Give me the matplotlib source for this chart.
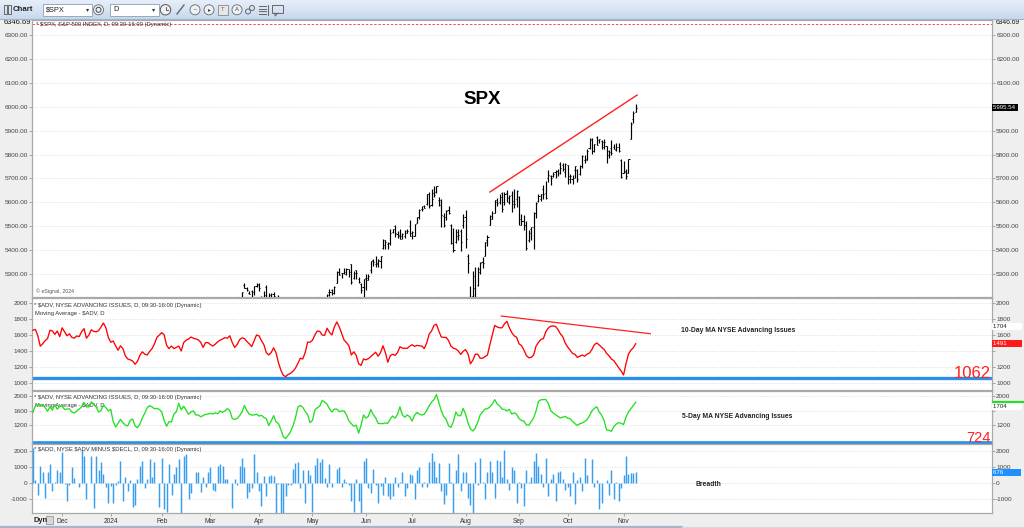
import numpy as np
import pandas as pd
import matplotlib
matplotlib.use('Agg')
import matplotlib.pyplot as plt
from matplotlib.patches import Rectangle, Circle
from matplotlib.transforms import blended_transform_factory

plt.rcParams['font.family'] = ['Liberation Sans', 'DejaVu Sans']
plt.rcParams['axes.unicode_minus'] = False

W, H = 1024, 528

# ---------------- data ----------------
holidays = ['2023-11-23', '2023-12-25', '2024-01-01', '2024-01-15', '2024-02-19',
            '2024-03-29', '2024-05-27', '2024-06-19', '2024-07-04', '2024-09-02']
month_labels = ['Dec', '2024', 'Feb', 'Mar', 'Apr', 'May', 'Jun', 'Jul', 'Aug', 'Sep', 'Oct', 'Nov']

spx_open = [
    4458, 4505, 4497, 4510, 4512, 4539, 4553, 4555, 4555, 4546, 4571, 4548,
    4559, 4565, 4558, 4586, 4568, 4576, 4594, 4619, 4647, 4721, 4714, 4725, 4743, 4764, 4725, 4753, 4758, 4773, 4787, 4782,
    4745, 4726, 4697, 4690, 4703, 4742, 4759, 4792, 4792, 4772, 4739, 4760, 4797, 4854, 4856, 4889, 4886, 4888, 4892, 4925, 4900,
    4862, 4917, 4957, 4951, 4973, 4996, 5005, 5026, 4967, 4976, 5004, 5031, 4989, 4963, 5039, 5100, 5094, 5075, 5067, 5086,
    5098, 5131, 5110, 5109, 5133, 5160, 5112, 5134, 5174, 5175, 5124, 5154, 5139, 5181, 5254, 5242, 5219, 5229, 5226, 5249,
    5258, 5204, 5195, 5244, 5158, 5212, 5217, 5167, 5172, 5171, 5150, 5065, 5068, 5031, 5006, 4988, 5029, 5084, 5019, 5085, 5114, 5103,
    5029, 5049, 5122, 5142, 5187, 5173, 5189, 5225, 5233, 5222, 5264, 5310, 5303, 5305, 5298, 5319, 5340, 5282, 5315, 5278, 5259, 5244,
    5283, 5275, 5315, 5357, 5343, 5341, 5353, 5409, 5441, 5424, 5431, 5477, 5499, 5466, 5460, 5460, 5461, 5473, 5499,
    5471, 5461, 5514, 5537, 5572, 5585, 5591, 5636, 5590, 5638, 5645, 5610, 5608, 5544, 5538, 5566, 5505, 5429, 5433, 5477, 5478, 5505,
    5537, 5377, 5151, 5206, 5293, 5253, 5308, 5352, 5376, 5443, 5505, 5531, 5557, 5602, 5603, 5637, 5602, 5640, 5602, 5629, 5607, 5612,
    5624, 5507, 5521, 5507, 5443, 5490, 5496, 5557, 5604, 5615, 5655, 5641, 5703, 5709, 5711, 5727, 5733, 5762, 5756, 5727,
    5757, 5698, 5698, 5737, 5737, 5719, 5751, 5778, 5775, 5829, 5866, 5816, 5875, 5860, 5857, 5833, 5834, 5816, 5827, 5833, 5819, 5832, 5775,
    5724, 5725, 5722, 5865, 5947, 5977]

spx_high = [
    4504, 4521, 4511, 4521, 4557, 4542, 4568, 4560, 4562, 4562, 4587, 4569,
    4599, 4575, 4578, 4591, 4591, 4610, 4624, 4644, 4710, 4739, 4725, 4749, 4769, 4779, 4749, 4773, 4785, 4785, 4793, 4789,
    4755, 4730, 4727, 4721, 4765, 4765, 4791, 4798, 4802, 4782, 4745, 4786, 4842, 4869, 4867, 4903, 4898, 4907, 4929, 4932, 4907,
    4906, 4975, 4957, 4965, 5000, 5004, 5031, 5049, 4975, 5003, 5033, 5039, 4993, 4983, 5090, 5111, 5098, 5081, 5077, 5105,
    5140, 5149, 5114, 5127, 5160, 5190, 5125, 5180, 5180, 5180, 5128, 5175, 5180, 5225, 5261, 5246, 5229, 5235, 5249, 5264,
    5263, 5208, 5228, 5256, 5222, 5219, 5224, 5178, 5211, 5175, 5168, 5079, 5077, 5046, 5019, 5039, 5076, 5089, 5058, 5114, 5123, 5110,
    5096, 5073, 5140, 5181, 5200, 5191, 5215, 5239, 5237, 5250, 5312, 5325, 5305, 5325, 5324, 5323, 5341, 5311, 5315, 5288, 5263, 5281,
    5302, 5302, 5354, 5362, 5375, 5361, 5376, 5447, 5442, 5432, 5488, 5487, 5505, 5478, 5487, 5472, 5483, 5490, 5524,
    5479, 5510, 5539, 5570, 5584, 5590, 5635, 5642, 5655, 5667, 5669, 5622, 5614, 5557, 5567, 5586, 5508, 5492, 5488, 5487, 5489, 5551,
    5566, 5383, 5250, 5313, 5330, 5328, 5351, 5371, 5436, 5463, 5547, 5562, 5609, 5620, 5633, 5643, 5642, 5651, 5631, 5646, 5655, 5651,
    5626, 5552, 5546, 5523, 5484, 5497, 5560, 5600, 5636, 5636, 5671, 5690, 5734, 5716, 5725, 5736, 5741, 5767, 5764, 5765,
    5758, 5720, 5714, 5753, 5739, 5757, 5796, 5796, 5822, 5871, 5871, 5843, 5878, 5866, 5862, 5863, 5834, 5817, 5862, 5842, 5847, 5850, 5780,
    5772, 5741, 5783, 5936, 5983, 6012]

spx_low = [
    4458, 4495, 4485, 4499, 4510, 4525, 4545, 4552, 4546, 4540, 4547, 4537,
    4547, 4547, 4551, 4547, 4565, 4575, 4593, 4609, 4644, 4695, 4705, 4720, 4743, 4698, 4717, 4737, 4758, 4768, 4780, 4751,
    4723, 4699, 4683, 4683, 4703, 4731, 4756, 4740, 4769, 4742, 4715, 4739, 4786, 4839, 4836, 4865, 4870, 4881, 4887, 4917, 4845,
    4853, 4908, 4918, 4935, 4969, 4983, 5003, 5016, 4920, 4964, 4999, 4996, 4947, 4946, 5039, 5082, 5069, 5058, 5058, 5067,
    5094, 5127, 5056, 5092, 5126, 5111, 5099, 5122, 5161, 5131, 5104, 5148, 5137, 5161, 5240, 5229, 5216, 5203, 5213, 5246,
    5229, 5184, 5194, 5146, 5157, 5197, 5160, 5138, 5138, 5107, 5052, 5039, 5007, 4998, 4954, 4987, 5027, 5047, 5001, 5073, 5089, 5035,
    5013, 5011, 5086, 5142, 5178, 5165, 5180, 5207, 5211, 5216, 5263, 5296, 5283, 5298, 5297, 5287, 5257, 5279, 5280, 5264, 5222, 5192,
    5234, 5273, 5303, 5335, 5331, 5331, 5327, 5405, 5404, 5404, 5421, 5472, 5455, 5452, 5447, 5446, 5451, 5471, 5460,
    5445, 5459, 5513, 5531, 5565, 5575, 5587, 5576, 5584, 5621, 5640, 5584, 5497, 5497, 5525, 5551, 5427, 5390, 5430, 5444, 5398, 5493,
    5410, 5303, 5120, 5194, 5195, 5250, 5300, 5324, 5376, 5418, 5505, 5529, 5555, 5585, 5592, 5560, 5590, 5602, 5593, 5561, 5577, 5581,
    5504, 5503, 5486, 5402, 5434, 5442, 5406, 5536, 5601, 5605, 5614, 5615, 5685, 5674, 5704, 5700, 5712, 5720, 5730, 5704,
    5677, 5679, 5675, 5702, 5686, 5715, 5745, 5765, 5775, 5824, 5804, 5810, 5840, 5847, 5824, 5821, 5763, 5785, 5799, 5823, 5813, 5811, 5703,
    5723, 5696, 5722, 5864, 5931, 5976]

spx_close = [
    4496, 4502, 4508, 4514, 4547, 4538, 4556, 4559, 4550, 4554, 4551, 4568,
    4595, 4569, 4567, 4549, 4585, 4604, 4622, 4644, 4707, 4720, 4719, 4741, 4768, 4698, 4746, 4755, 4775, 4781, 4783, 4770,
    4743, 4705, 4689, 4697, 4764, 4757, 4783, 4780, 4784, 4766, 4739, 4780, 4840, 4851, 4865, 4868, 4894, 4891, 4928, 4925, 4846,
    4906, 4959, 4943, 4954, 4995, 4998, 5027, 5022, 4953, 5001, 5030, 5006, 4976, 4982, 5087, 5089, 5070, 5078, 5070, 5096,
    5137, 5131, 5079, 5105, 5157, 5124, 5118, 5175, 5165, 5150, 5117, 5149, 5179, 5225, 5241, 5234, 5218, 5204, 5248, 5254,
    5243, 5205, 5211, 5147, 5204, 5202, 5209, 5161, 5199, 5123, 5061, 5051, 5022, 5011, 4967, 5010, 5070, 5072, 5048, 5100, 5116, 5036,
    5018, 5064, 5128, 5181, 5187, 5188, 5214, 5223, 5221, 5247, 5308, 5297, 5303, 5308, 5321, 5307, 5268, 5305, 5306, 5267, 5235, 5278,
    5283, 5291, 5354, 5352, 5347, 5360, 5375, 5421, 5434, 5431, 5473, 5487, 5473, 5464, 5448, 5469, 5478, 5482, 5460,
    5475, 5509, 5537, 5567, 5572, 5577, 5634, 5585, 5615, 5631, 5667, 5589, 5545, 5505, 5564, 5555, 5428, 5400, 5459, 5464, 5436, 5522,
    5446, 5347, 5186, 5240, 5199, 5319, 5344, 5344, 5434, 5455, 5543, 5554, 5608, 5597, 5621, 5571, 5635, 5617, 5626, 5592, 5592, 5648,
    5529, 5520, 5503, 5408, 5471, 5496, 5554, 5596, 5626, 5634, 5634, 5618, 5714, 5703, 5719, 5732, 5722, 5745, 5738, 5762,
    5709, 5710, 5700, 5751, 5696, 5751, 5793, 5780, 5815, 5859, 5815, 5843, 5841, 5865, 5853, 5851, 5797, 5809, 5808, 5823, 5832, 5813, 5705,
    5729, 5712, 5783, 5929, 5973, 5995.54]

ma10_adv = [
    1660, 1670, 1590, 1460, 1490, 1530, 1555, 1660, 1650, 1608,
    1650, 1580, 1690, 1640, 1590, 1615, 1570, 1560, 1588, 1580,
    1640, 1680, 1560, 1600, 1665, 1645, 1640, 1655, 1700, 1750,
    1690, 1570, 1510, 1525, 1465, 1410, 1465, 1430, 1340, 1300,
    1290, 1275, 1235, 1270, 1346, 1390, 1360, 1350, 1395, 1430,
    1490, 1570, 1600, 1630, 1600, 1470, 1430, 1462, 1430, 1445,
    1462, 1400, 1505, 1535, 1550, 1575, 1560, 1550, 1540, 1510,
    1445, 1505, 1505, 1480, 1462, 1485, 1515, 1535, 1550, 1567,
    1560, 1590, 1505, 1445, 1480, 1540,
    1565, 1556, 1520, 1490, 1454, 1530, 1600, 1590, 1530, 1480,
    1380, 1350, 1380, 1440, 1379, 1254, 1160, 1096, 1080, 1108,
    1120, 1148, 1185, 1245, 1310, 1300, 1380, 1510, 1510, 1535,
    1600, 1650, 1645, 1600, 1596, 1685, 1635, 1600, 1700, 1763,
    1704, 1620, 1537, 1505, 1465, 1350, 1390, 1345, 1240, 1220,
    1300, 1290, 1305, 1330, 1358, 1385, 1335, 1379, 1465, 1380,
    1260, 1340, 1360, 1345, 1380, 1454, 1435, 1435, 1432, 1460,
    1478, 1458, 1470, 1465, 1462, 1430, 1500,
    1610, 1650, 1720, 1735, 1650,
    1575, 1570, 1570, 1530, 1460, 1435, 1425, 1400, 1358, 1395,
    1418, 1365, 1240, 1285, 1360, 1360, 1310, 1310, 1329, 1350,
    1480, 1600, 1720, 1700, 1690, 1690, 1740, 1770, 1692, 1630,
    1590, 1572, 1490, 1468, 1412, 1345, 1315, 1320, 1350, 1462,
    1508, 1545, 1554, 1640, 1685, 1710, 1712, 1708, 1670, 1615,
    1578, 1500, 1450, 1412, 1370, 1358, 1320, 1335, 1350, 1335,
    1360, 1375, 1420, 1480, 1500, 1475, 1445, 1420, 1372, 1340,
    1300, 1280, 1235, 1190, 1150, 1100, 1240, 1360, 1410, 1440, 1491]

ma5_adv = [
    1550, 1730, 1760, 1740, 1765, 1678, 1580, 1700, 1610, 1765,
    1635, 1720, 1720, 1630, 1640, 1650, 1560, 1530, 1591, 1640,
    1700, 1826, 1700, 1700, 1840, 1780, 1700, 1560, 1600, 1750,
    1680, 1591, 1635, 1300, 1150, 1250, 1360, 1270, 1200, 1180,
    1330, 1370, 1180, 1130, 1230, 1400, 1530, 1680, 1735, 1700,
    1650, 1660, 1630, 1560, 1320, 1170, 1300, 1287, 1504, 1570,
    1800, 1620, 1720, 1610, 1500, 1560, 1591, 1480, 1480, 1430,
    1461, 1500, 1504, 1525, 1504, 1540, 1510, 1591, 1548, 1591,
    1652, 1600, 1380, 1357, 1385, 1460,
    1560, 1740, 1600, 1500, 1478, 1480, 1500, 1450, 1470, 1410,
    1380, 1190, 1310, 1460, 1295, 1240, 1080, 880, 835, 922,
    1026, 1180, 1400, 1700, 1740, 1690, 1580, 1490, 1270, 1330,
    1617, 1678, 1722, 1880, 1835, 1775, 1650, 1560, 1640, 1640,
    1570, 1591, 1591, 1480, 1320, 1240, 1170, 1200, 980, 1200,
    1480, 1391, 1443, 1630, 1490, 1400, 1250, 1243, 1243, 1260,
    1250, 1370, 1450, 1391, 1500, 1704, 1480, 1420, 1480, 1430,
    1310, 1470, 1550, 1500, 1478, 1500, 1600,
    1730, 1830, 1900, 2040, 1820,
    1600, 1440, 1360, 1180, 1140, 1300, 1560, 1461, 1461, 1660,
    1500, 1260, 1100, 1040, 1120, 1280, 1480, 1570, 1640, 1652,
    1700, 1780, 1900, 1780, 1730, 1640, 1630, 1590, 1635, 1504,
    1540, 1500, 1380, 1330, 1310, 1210, 1195, 1300, 1400, 1591,
    1855, 1896, 1900, 1905, 1800, 1600, 1535, 1490, 1440, 1400,
    1420, 1440, 1390, 1380, 1304, 1243, 1190, 1240, 1260, 1300,
    1350, 1461, 1590, 1660, 1704, 1560, 1470, 1320, 1070, 1060,
    1030, 1160, 1230, 1270, 1250, 1217, 1420, 1560, 1650, 1740, 1830]

add_breadth = [
    2200, 200, -700, 1100, 700, -900, 700, 1200, -500, 60,
    850, 700, 1950, -50, -1100, -100, 1000, 350, 50, -250,
    2100, 1700, -950, 40, 1700, -1550, 1700, 850, 1300, 600,
    -200, -1200, -150, -1200, -100, 150, 1400, -1100, 400, -450,
    200, -1500, -1350, 300, 1050, 1400, -300, 300, 1500, 400,
    1300, 50, -1500, 1600, -1600, -1800, 1200, -700, 600, 1000,
    1500, -1900, 1700, 1800, -1000, -600, 50, 700, 700, -550,
    400, -200, 700, 1000, -400, -450, 1100, 1200, 1050, 300,
    300, 50, -1550, 300, -100, 1050, 1550, 1000, -900, -550,
    -300, 1800, 700, -500, -1400, 450, -800, 450, 500, 450,
    -1900, -50, -1950, -1850, -800, -100, -100, 900, 1250, 1300,
    -300, 800, -1200, 800, 500, -1800, 1150, 1550, 1350, 1500,
    350, -250, 1200, -250, 50, 900, 1000, -200, 300, 60,
    -100, -1100, -1800, 300, -1100, -1900, 1400, 1550, -300, -600,
    900, -100, -1200, -150, -700, 400, -800, -1000, -800, 400,
    -200, 100, 700, -800, -300, 600, 500, -950, 800, 1000,
    -250, 100, -250, 1350, 1900, 1400, 400, 1250, -500, -1300,
    -700, 1250, 100, -1850, 850, 1800, -500, 700, 700, -900,
    -1350, -1900, 1300, -100, 1600, 100, -1000,
    700, 1400, 700, -900, 1450, 1400, 400, 2100, 250, -400,
    1000, 800, -1200, 100, -300, -1400, 800, 100, 400, 1400,
    1900, 1100, 600, -200, 1600, -800, 300, 600, -1100, 700,
    750, 300, -400, -200, -800, 700, -1300, 200, 400, -500,
    1600, 500, 50, 1500, -200, 200, -1600, -1200, 50, 200,
    -700, 800, -1000, 100, -1100, -300, 500, 1700, 600, 650, 650, 676]

adv_last = 1704
support_10d = 1062
support_5d = 724
spx_ref_high = 6346.69
spx_trend_idx = [188, 248.6]
spx_trend_val = [5643, 6049]
ma10_trend_idx = [192.7, 254]
ma10_trend_val = [1837, 1616]

# ---------------- helpers ----------------
dates = pd.bdate_range('2023-11-14', '2024-11-08')
dates = dates[~dates.isin(pd.to_datetime(holidays))]
per = dates.to_period('M')
month_starts = [i for i in range(1, len(per)) if per[i] != per[i - 1]]

fig = plt.figure(figsize=(W / 100, H / 100), dpi=100)
fig.patch.set_facecolor('#efefef')


def prect(x0, y0, x1, y1):
    return [x0 / W, 1 - y1 / H, (x1 - x0) / W, (y1 - y0) / H]


def ftext(x, y, s, **kw):
    kw.setdefault('va', 'center')
    return fig.text(x / W, 1 - y / H, s, **kw)


PX0, PX1 = 32, 992
XL = (-0.4, 394.6)
rects = {
    'spx': (PX0, 20, PX1, 297),
    'ma10': (PX0, 298, PX1, 390),
    'ma5': (PX0, 391, PX1, 444),
    'add': (PX0, 444, PX1, 513),
}
ax1 = fig.add_axes(prect(*rects['spx']))
ax2 = fig.add_axes(prect(*rects['ma10']))
ax3 = fig.add_axes(prect(*rects['ma5']))
ax4 = fig.add_axes(prect(*rects['add']))


def atext(ax, key, px, py, s, **kw):
    x0, y0, x1, y1 = rects[key]
    kw.setdefault('va', 'center')
    return ax.text((px - x0) / (x1 - x0), (y1 - py) / (y1 - y0), s,
                   transform=ax.transAxes, **kw)


for ax in (ax1, ax2, ax3, ax4):
    ax.set_facecolor('white')
    ax.set_xlim(*XL)
    for s in ax.spines.values():
        s.set_color('#a9a9a9')
        s.set_linewidth(0.9)
    ax.tick_params(axis='y', which='major', left=True, right=True,
                   labelleft=True, labelright=True, direction='out',
                   length=2, width=0.5, color='#888', labelsize=4.6,
                   labelcolor='#444', pad=1)
    ax.grid(axis='y', color='#d2d2d2', ls=(0, (1, 2)), lw=0.6)
    ax.set_axisbelow(True)
    ax.set_xticks([])


def hide_right_label(ax, value):
    for t, v in zip(ax.yaxis.get_major_ticks(), ax.get_yticks()):
        if abs(v - value) < 1e-6:
            t.label2.set_visible(False)


# ---- SPX panel ----
n = len(spx_close)
x = np.arange(n)
ax1.set_ylim(5203.8, 6362.8)
ax1.set_yticks(np.arange(5300, 6301, 100))
ax1.yaxis.set_major_formatter(matplotlib.ticker.FormatStrFormatter('%.2f'))
ax1.vlines(x, spx_low, spx_high, color='black', lw=0.85, zorder=3)
ax1.hlines(spx_open, x - 0.45, x, color='black', lw=0.7, zorder=3)
ax1.hlines(spx_close, x, x + 0.45, color='black', lw=0.7, zorder=3)
ax1.axhline(spx_ref_high, color='#ff3030', ls=(0, (3, 2)), lw=0.6)
ax1.plot(spx_trend_idx, spx_trend_val, color='#ff2020', lw=1.0, zorder=4)
atext(ax1, 'spx', 36, 24.5, '* $SPX, S&P 500 INDEX, D, 09:30-16:00 (Dynamic)',
      fontsize=4.2, color='#333')
atext(ax1, 'spx', 36, 291, '© eSignal, 2024', fontsize=3.8, color='#555')
atext(ax1, 'spx', 482, 100, 'SPX', fontsize=13.5, fontweight='bold',
      color='black', ha='center')
hide_right_label(ax1, 6000)

# ---- 10-day MA panel ----
x2 = np.arange(len(ma10_adv))
ax2.set_ylim(912.5, 2062.5)
ax2.set_yticks(np.arange(1000, 2001, 200))
ax2.axhline(support_10d, color='#2b8fe6', lw=2.4, zorder=2)
ax2.plot(x2, ma10_adv, color='#ff0000', lw=0.95, zorder=3)
ax2.plot(ma10_trend_idx, ma10_trend_val, color='#ff2020', lw=0.9, zorder=3)
atext(ax2, 'ma10', 34, 305, '* $ADV, NYSE ADVANCING ISSUES, D, 09:30-16:00 (Dynamic)',
      fontsize=4.2, color='#333', zorder=1)
atext(ax2, 'ma10', 35, 313, 'Moving Average - $ADV, D', fontsize=4.2,
      color='#333', zorder=1)
atext(ax2, 'ma10', 681, 331, '10-Day MA NYSE Advancing Issues', fontsize=4.9,
      fontweight='bold', color='#222')
hide_right_label(ax2, 1400)

# ---- 5-day MA panel ----
x3 = np.arange(len(ma5_adv))
ax3.set_ylim(683, 2137)
ax3.set_yticks([1200, 1600, 2000])
ax3.axhline(support_5d, color='#2b8fe6', lw=2.6, zorder=2)
ax3.plot(x3, ma5_adv, color='#22e022', lw=0.95, zorder=3)
atext(ax3, 'ma5', 34, 397.5, '* $ADV, NYSE ADVANCING ISSUES, D, 09:30-16:00 (Dynamic)',
      fontsize=4.2, color='#333', zorder=1)
atext(ax3, 'ma5', 35, 405.5, 'Moving Average - $ADV, D', fontsize=4.2,
      color='#333', zorder=1)
atext(ax3, 'ma5', 682, 416, '5-Day MA NYSE Advancing Issues', fontsize=4.9,
      fontweight='bold', color='#222')
hide_right_label(ax3, 1600)

# ---- breadth panel ----
x4 = np.arange(len(add_breadth))
ax4.set_ylim(-1856, 2456)
ax4.set_yticks([-1000, 0, 1000, 2000])
ax4.vlines(x4, 0, add_breadth, color='#3a9ef0', lw=1.05, zorder=3)
atext(ax4, 'add', 34, 449, '* $ADD, NYSE $ADV MINUS $DECL, D, 09:30-16:00 (Dynamic)',
      fontsize=4.2, color='#333')
atext(ax4, 'add', 695, 485, 'Breadth', fontsize=4.9, fontweight='bold', color='#222')
ax4.set_xticks(month_starts)
ax4.set_xticklabels(month_labels)
ax4.tick_params(axis='x', direction='out', length=2.5, width=0.5, color='#888',
                labelsize=4.8, labelcolor='#333', pad=1.2, bottom=True)

# ---- support level labels ----
ftext(991, 377.5, str(support_10d), fontsize=12, color='#ff2020', ha='right', va='baseline')
ftext(991, 442, str(support_5d), fontsize=10.5, color='#ff2020', ha='right', va='baseline')

# ---- right-side value tags ----


def tag(ax, val, txt, fc, tc, ec='none'):
    bt = blended_transform_factory(ax.transAxes, ax.transData)
    ax.text(1.0015, val, txt, transform=bt, fontsize=4.4, color=tc, va='center',
            ha='left', clip_on=False, zorder=10,
            bbox=dict(boxstyle='square,pad=0.18', fc=fc, ec=ec, lw=0.3))


tag(ax1, spx_close[-1], '%.2f ' % spx_close[-1], 'black', 'white')
tag(ax2, adv_last, str(adv_last) + '        ', 'white', '#222')
tag(ax2, ma10_adv[-1], str(ma10_adv[-1]) + '        ', '#ff1a1a', 'white')
tag(ax3, adv_last, str(adv_last) + '        ', 'white', '#222')
bt3 = blended_transform_factory(ax3.transAxes, ax3.transData)
ax3.plot([1.0015, 1.034], [ma5_adv[-1], ma5_adv[-1]], transform=bt3,
         color='#22e022', lw=1.6, clip_on=False, zorder=11)
tag(ax4, add_breadth[-1], str(add_breadth[-1]) + '         ', '#1e90ff', 'white')

ftext(4, 23, '%.2f' % spx_ref_high, fontsize=5.4, color='#111')
ftext(996, 23, '%.2f' % spx_ref_high, fontsize=4.8, color='#111')

# ---- window chrome (toolbar, bottom strip) ----
ov = fig.add_axes([0, 0, 1, 1], zorder=20)
ov.set_xlim(0, W)
ov.set_ylim(H, 0)
ov.axis('off')
ov.patch.set_alpha(0)
grad = np.linspace(0, 1, 20).reshape(-1, 1)
cmap = matplotlib.colors.LinearSegmentedColormap.from_list('tb', ['#e6eff9', '#c8d9ed'])
ov.imshow(grad, extent=(0, W, 19, 0), aspect='auto', cmap=cmap, zorder=0)
ov.plot([0, W], [19, 19], color='#9fb3cc', lw=0.8)
ov.add_patch(Rectangle((3.5, 5), 3, 9, fill=False, ec='#555', lw=0.6))
ov.add_patch(Rectangle((7.5, 5), 3, 9, fill=False, ec='#555', lw=0.6))
ov.text(13, 9.8, 'Chart', fontsize=5.6, fontweight='bold', color='#222', va='center')
ov.add_patch(Rectangle((43, 3.5), 49, 12.5, fc='white', ec='#8d9db3', lw=0.6))
ov.text(46, 9.8, '$SPX', fontsize=5.3, color='#222', va='center')
ov.text(86, 9.8, '▾', fontsize=4.5, color='#333', va='center', family='DejaVu Sans')
ov.add_patch(Circle((98.5, 9.8), 5, fc='#eef2f7', ec='#666', lw=0.6))
ov.add_patch(Circle((98.5, 9.8), 2.5, fill=False, ec='#444', lw=0.7))
ov.add_patch(Rectangle((110, 3.5), 49, 12.5, fc='white', ec='#8d9db3', lw=0.6))
ov.text(113, 9.8, 'D', fontsize=5.3, color='#222', va='center')
ov.text(152, 9.8, '▾', fontsize=4.5, color='#333', va='center', family='DejaVu Sans')
ov.add_patch(Circle((165.5, 9.8), 5.2, fc='#eef2f7', ec='#555', lw=0.7))
ov.plot([165.5, 165.5, 168], [6.5, 9.8, 9.8], color='#444', lw=0.6)
ov.plot([177, 184], [14, 5], color='#666', lw=1.0)
for cx, g in [(195, '~'), (209, '▸'), (237, 'A')]:
    ov.add_patch(Circle((cx, 9.8), 5, fc='#eef2f7', ec='#666', lw=0.6))
    ov.text(cx, 9.8, g, fontsize=4.2, ha='center', va='center', color='#444',
            family='DejaVu Sans')
ov.add_patch(Rectangle((218, 4.5), 10, 10, fc='#e8e8e8', ec='#888', lw=0.6))
ov.text(223, 9.8, 'T', fontsize=4.2, ha='center', va='center', color='#666')
ov.add_patch(Circle((248, 11.5), 2.5, fill=False, ec='#666', lw=0.7))
ov.add_patch(Circle((252, 8), 2.5, fill=False, ec='#666', lw=0.7))
for yy in (6, 8.5, 11, 13.5):
    ov.plot([259, 266], [yy, yy], color='#666', lw=0.7)
ov.plot([268, 268], [5, 15], color='#666', lw=0.7)
ov.add_patch(Rectangle((272, 5), 11, 8, fill=False, ec='#666', lw=0.7))
ov.plot([275, 275, 278], [13, 16, 13], color='#666', lw=0.7)

# bottom strip
ov.text(33, 520.5, 'Dyn', fontsize=5.4, fontweight='bold', color='#222', va='center')
ov.add_patch(Rectangle((46, 516), 7, 8, fc='#d8d8d8', ec='#888', lw=0.5))
ov.plot([0, 682], [526.8, 526.8], color='#a6b6c8', lw=1.6)
ov.plot([682, W], [526.8, 526.8], color='#d4dbe4', lw=1.0)

fig.savefig('out.png', dpi=100, facecolor=fig.get_facecolor())
